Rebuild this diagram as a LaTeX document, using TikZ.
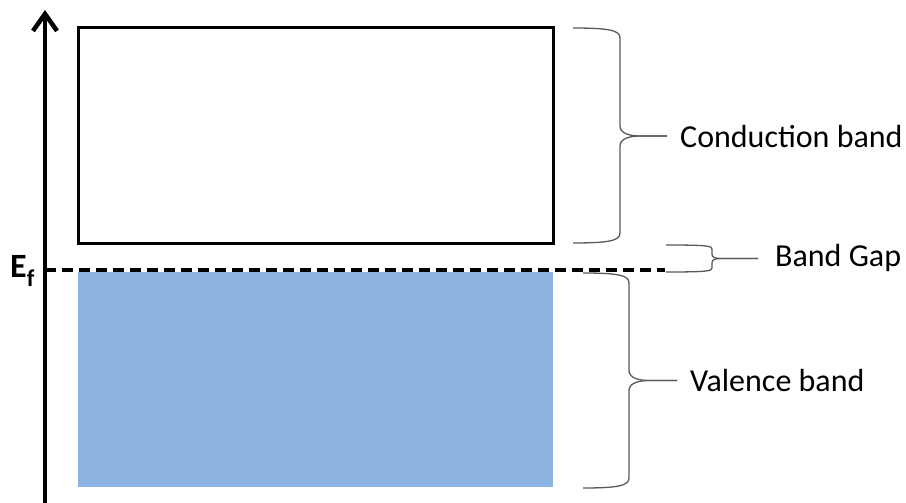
\documentclass[tikz,border=0pt]{standalone}
\usepackage{fontspec}
\setmainfont{Carlito}
\usepackage{xcolor}
\usetikzlibrary{arrows.meta}
\definecolor{valfill}{HTML}{8DB3E2}
% half of a curly brace: y end, y tip, x end, x spine, x tip, bend, direction
\newcommand{\halfbrace}[7]{%
  \draw[bracepen] (#3,#1) .. controls ({#4-#6},#1) and (#4,{#1+#7*#6/4}) .. (#4,{#1+#7*#6})
    -- (#4,{#2-#7*#6}) .. controls (#4,{#2-#7*#6/4}) and ({#4+#6},#2) .. ({#4+2*#6},#2) -- (#5,#2);}

\begin{document}
\begin{tikzpicture}[x=1pt,y=-1pt,>=Latex]
\tikzstyle{band}=[rectangle,inner sep=0pt,minimum width=475pt,minimum height=215pt]
\tikzstyle{lbl}=[anchor=west,inner sep=0pt,font=\fontsize{32}{38}\selectfont]
\tikzstyle{bracepen}=[draw=black!65,line width=1.3pt]
\useasboundingbox (0,0) rectangle (906,503);
% energy axis
\coordinate (ax0) at (45,503);
\coordinate (ax1) at (45,10);
\draw[line width=4.5pt,-{Straight Barb[length=17pt,width=24pt]}] (ax0)--(ax1);
% bands
\node[band,draw=black,line width=3pt] (cb) at (315.5,135.5) {};
\node[band,fill=valfill] (vb) at (315,379.5) {};
% fermi level
\coordinate (ef0) at (45,270);
\coordinate (ef1) at (665,270);
\draw[line width=3.2pt,dash pattern=on 11pt off 6pt] (ef0)--(ef1);
\node[anchor=base west,inner sep=0pt,font=\fontsize{34}{40}\selectfont\bfseries] (ef) at (10,277) {E\raisebox{-9pt}{\fontsize{24}{24}\selectfont f}};
% braces
\halfbrace{28}{136}{573}{620}{667}{10}{1}
\halfbrace{243}{136}{573}{620}{667}{10}{-1}
\halfbrace{245}{258.5}{666}{712}{758}{4}{1}
\halfbrace{272}{258.5}{666}{712}{758}{4}{-1}
\halfbrace{273}{380.5}{583}{629}{677}{10}{1}
\halfbrace{488}{380.5}{583}{629}{677}{10}{-1}
% labels
\node[lbl] (cl) at (680,137) {Conduction band};
\node[lbl] (gl) at (775,258) {Band Gap};
\node[lbl] (vl) at (690,381) {Valence band};
\end{tikzpicture}
\end{document}
